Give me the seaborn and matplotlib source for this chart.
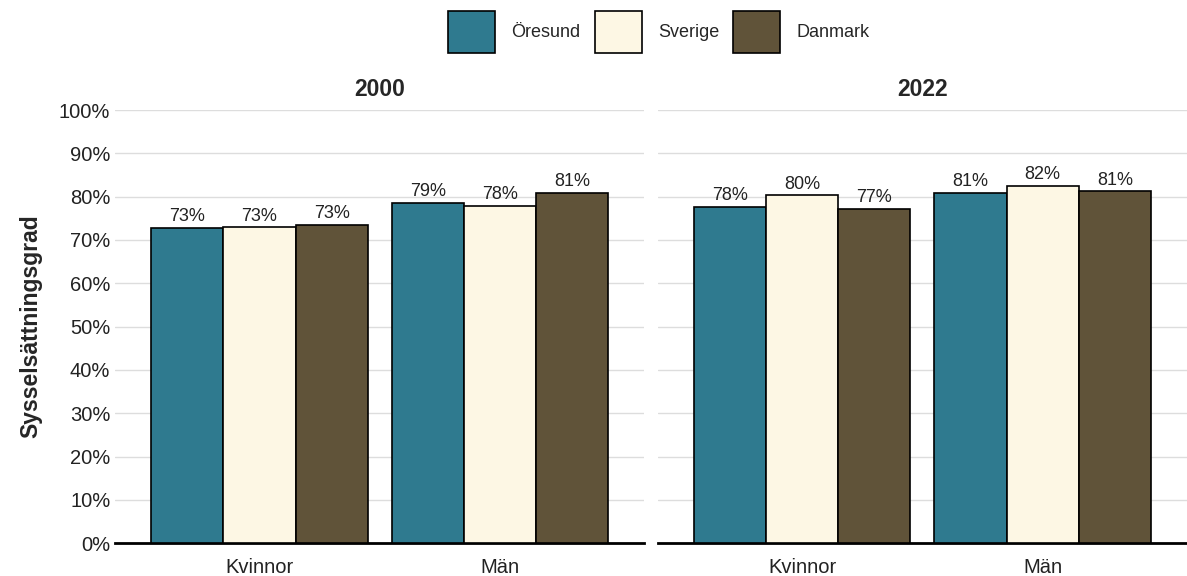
import pandas as pd
import matplotlib.pyplot as plt
import seaborn as sns
import numpy as np
from matplotlib.ticker import PercentFormatter
from matplotlib.patches import Patch

sns.set_style("white")
plt.rcParams['font.family'] = ['Liberation Sans', 'DejaVu Sans']

# data
years = ['2000', '2022']
kon = ['Kvinnor', 'Män']
regioner = ['Öresund', 'Sverige', 'Danmark']
farger = ['#2f7a8f', '#fdf7e4', '#605339']

# values in %, order: Kvinnor (Öresund, Sverige, Danmark), Män (Öresund, Sverige, Danmark)
varden_2000 = [72.7, 72.9, 73.4, 78.6, 77.8, 80.8]
varden_2022 = [77.7, 80.3, 77.1, 80.8, 82.4, 81.2]

rows = []
for year, vals in zip(years, [varden_2000, varden_2022]):
    i = 0
    for k in kon:
        for r in regioner:
            rows.append({'year': year, 'kon': k, 'region': r, 'value': vals[i]})
            i += 1
df = pd.DataFrame(rows)

fig, axes = plt.subplots(1, 2, figsize=(11.87, 5.76), dpi=100, sharey=True)
fig.subplots_adjust(left=0.097, right=1.0, bottom=0.057, top=0.809, wspace=0.025)

for ax, year in zip(axes, years):
    d = df[df['year'] == year]
    sns.barplot(data=d, x='kon', y='value', hue='region', order=kon, hue_order=regioner,
                palette=farger, saturation=1, width=0.9, edgecolor='black', linewidth=1.2,
                errorbar=None, ax=ax, legend=False, zorder=3)
    for c in ax.containers:
        labels = ['{:.0f}%'.format(v) for v in c.datavalues]
        ax.bar_label(c, labels=labels, padding=2, fontsize=13, color='#222222')
    ax.set_ylim(0, 100)
    ax.set_xlim(-0.6, 1.6)
    ax.yaxis.set_major_locator(plt.MultipleLocator(10))
    ax.yaxis.set_major_formatter(PercentFormatter(decimals=0))
    ax.grid(axis='y', color='#dddddd', linewidth=1, zorder=0)
    ax.set_axisbelow(True)
    for s in ['top', 'right', 'left']:
        ax.spines[s].set_visible(False)
    ax.spines['bottom'].set_linewidth(2)
    ax.spines['bottom'].set_color('black')
    ax.tick_params(axis='both', length=0, labelsize=14.5, labelcolor='#222222')
    ax.tick_params(axis='x', pad=11)
    ax.set_xlabel('')
    ax.set_ylabel('')
    ax.set_title(year, fontsize=16.5, weight='bold', pad=10)

axes[0].set_ylabel('Sysselsättningsgrad', fontsize=16.5, weight='bold', labelpad=12)

handles = [Patch(facecolor=f, edgecolor='black', linewidth=1.2, label=r) for r, f in zip(regioner, farger)]
fig.legend(handles=handles, loc='upper center', bbox_to_anchor=(0.555, 1.0), ncol=3,
           frameon=False, fontsize=13, handlelength=2.6, handleheight=3.2,
           handletextpad=0.9, columnspacing=0.8, borderaxespad=0.2)

plt.savefig('out.png', dpi=100)
